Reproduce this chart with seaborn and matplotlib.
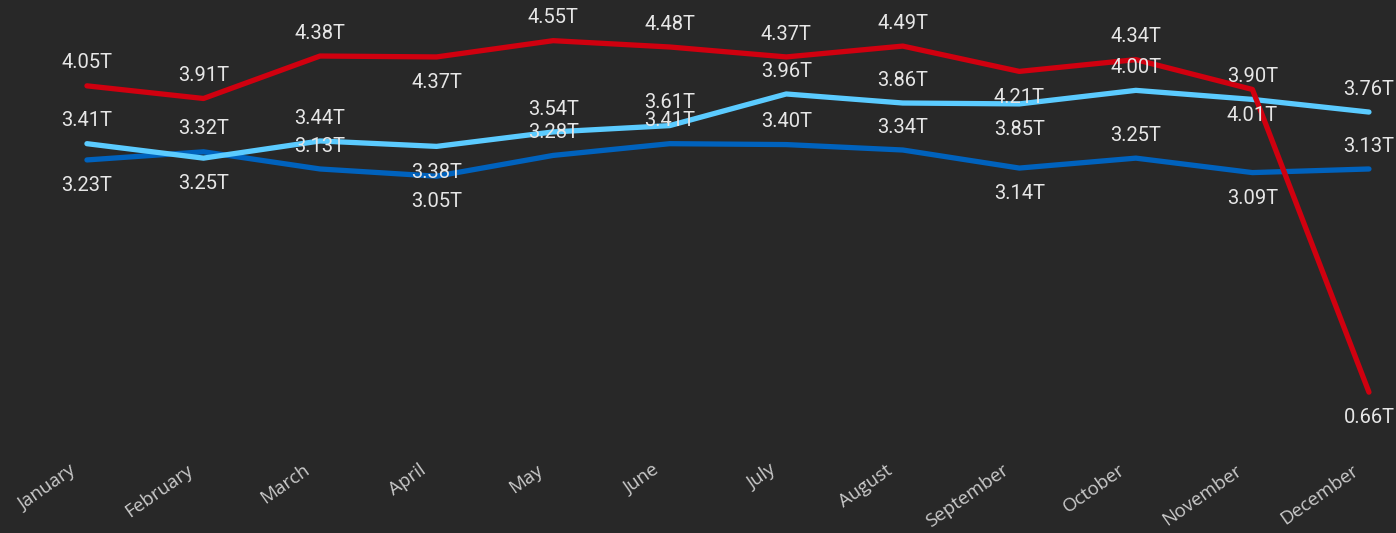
import pandas as pd
import matplotlib
matplotlib.use("Agg")
import matplotlib.pyplot as plt
import matplotlib.transforms as mtransforms
import seaborn as sns

months = ["January", "February", "March", "April", "May", "June", "July",
          "August", "September", "October", "November", "December"]

# values in trillions
red_vals = [4.05, 3.91, 4.38, 4.37, 4.55, 4.48, 4.37, 4.49, 4.21, 4.34, 4.01, 0.66]
light_vals = [3.41, 3.25, 3.44, 3.38, 3.54, 3.61, 3.96, 3.86, 3.85, 4.00, 3.90, 3.76]
dark_vals = [3.23, 3.32, 3.13, 3.05, 3.28, 3.41, 3.40, 3.34, 3.14, 3.25, 3.09, 3.13]

# where each data label sits: +1 above the point, -1 below
red_side = [1, 1, 1, -1, 1, 1, 1, 1, -1, 1, -1, -1]
light_side = [1, -1, 1, -1, 1, 1, 1, 1, -1, 1, 1, 1]
dark_side = [-1, 1, 1, -1, 1, 1, 1, 1, -1, 1, -1, 1]

bg = "#282828"
colors = {"red": "#D0000F", "light": "#5BCBFF", "dark": "#0062BD"}

df = pd.concat([
    pd.DataFrame({"month": months, "idx": range(12), "value": red_vals, "series": "red"}),
    pd.DataFrame({"month": months, "idx": range(12), "value": light_vals, "series": "light"}),
    pd.DataFrame({"month": months, "idx": range(12), "value": dark_vals, "series": "dark"}),
])

sns.set_theme(style="dark", rc={"axes.facecolor": bg, "figure.facecolor": bg})
plt.rcParams["font.family"] = ["Open Sans", "DejaVu Sans"]

fig = plt.figure(figsize=(13.96, 5.33), dpi=100)
ax = fig.add_axes([0, 83 / 533, 1, 450 / 533])

sns.lineplot(data=df, x="idx", y="value", hue="series", palette=colors,
             hue_order=["red", "light", "dark"], linewidth=3.8, legend=False,
             ax=ax, solid_capstyle="round", clip_on=False)

# draw order: dark under light, red on top
for line, z in zip(ax.get_lines(), [3, 2, 1]):
    line.set_zorder(z)

for vals, sides in [(red_vals, red_side), (light_vals, light_side), (dark_vals, dark_side)]:
    for i, (v, s) in enumerate(zip(vals, sides)):
        ax.annotate(f"{v:.2f}T", (i, v), xytext=(0, 17.5 * s - 1), textcoords="offset points",
                    ha="center", va="center", fontsize=14.5, color="#E6E6E6",
                    family=["Roboto", "DejaVu Sans"], zorder=5)

ax.set_xlim(-0.746, 11.232)
ax.set_ylim(0.02, 5.0)
ax.set_xticks(range(12))
ax.set_xticklabels(months, rotation=35, ha="right", fontsize=13.5, color="#CACACA")
ax.tick_params(axis="x", length=0, pad=8)
ax.set_yticks([])
ax.set_xlabel("")
ax.set_ylabel("")
ax.grid(False)
for sp in ax.spines.values():
    sp.set_visible(False)

shift = mtransforms.ScaledTranslation(-7 / 100, 0, fig.dpi_scale_trans)
for lab in ax.get_xticklabels():
    lab.set_transform(lab.get_transform() + shift)

fig.savefig("out.png", dpi=100, facecolor=bg)
